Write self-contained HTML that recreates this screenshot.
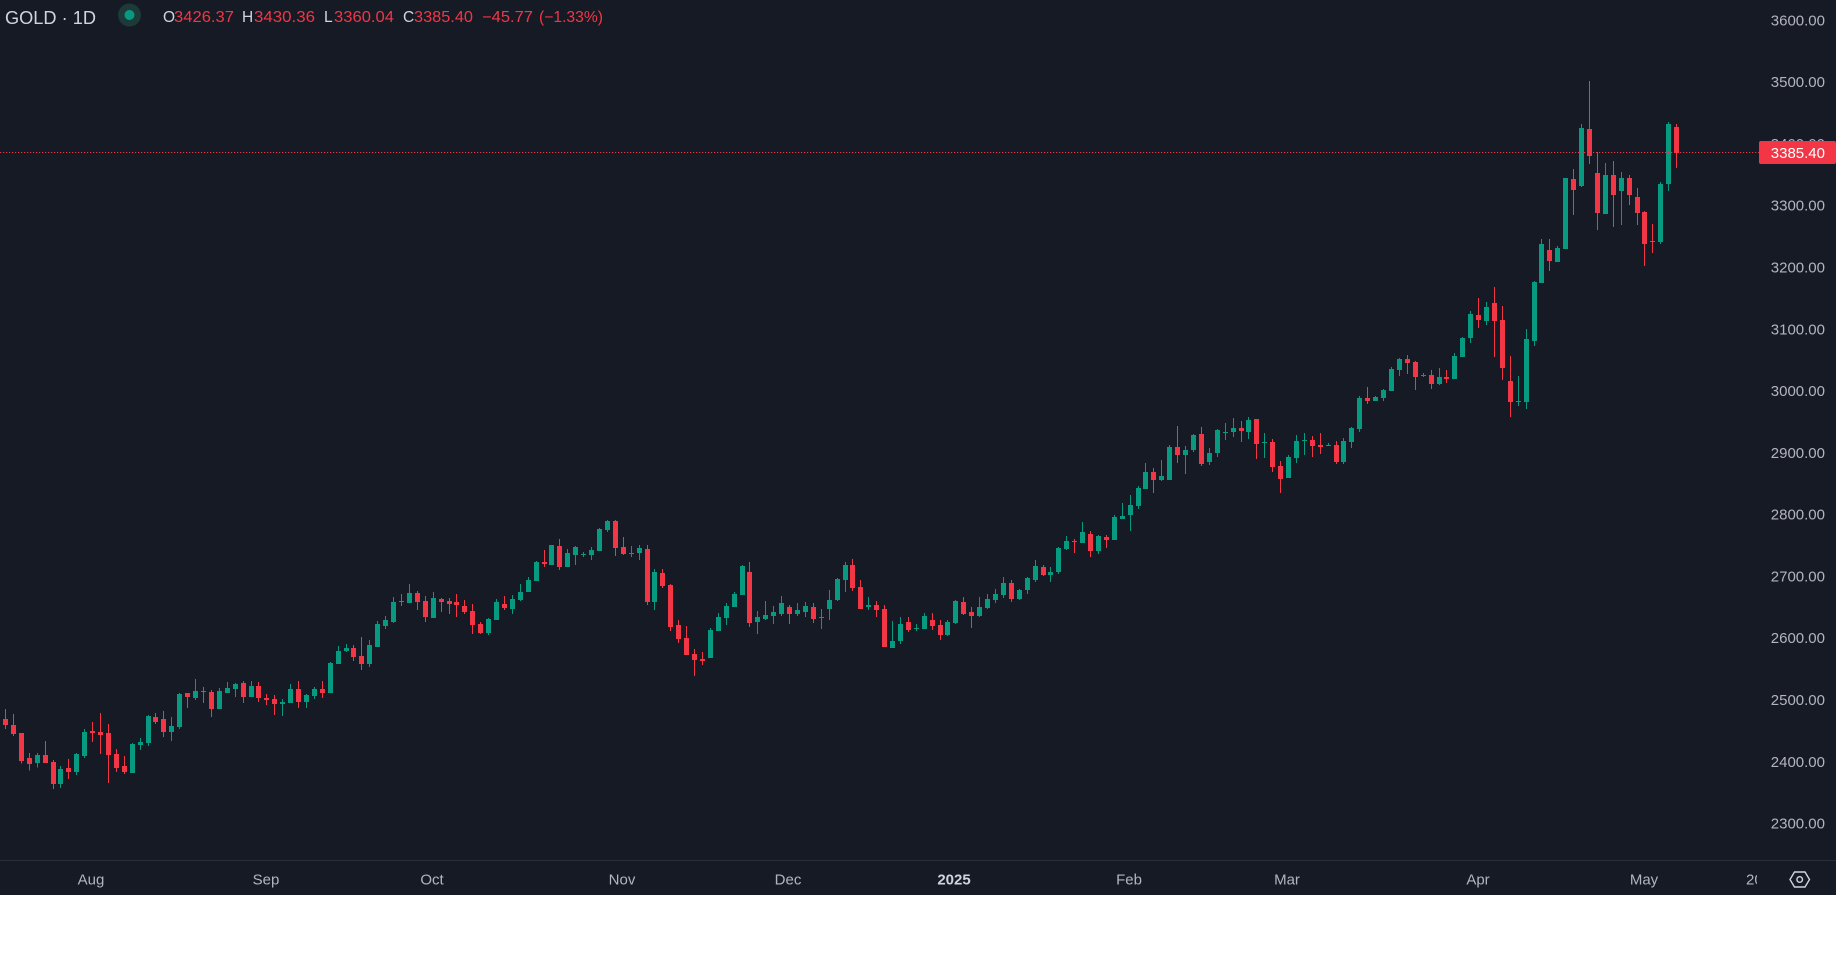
<!DOCTYPE html>
<html>
<head>
<meta charset="utf-8">
<style>
html,body{margin:0;padding:0;background:#ffffff;}
body{width:1836px;height:962px;overflow:hidden;position:relative;}
#chart{position:absolute;left:0;top:0;width:1836px;height:895px;background:#161a25;}
svg{position:absolute;left:0;top:0;}
text{font-family:"Liberation Sans",sans-serif;}
</style>
</head>
<body>
<div id="chart">
<svg width="1836" height="895" viewBox="0 0 1836 895" xmlns="http://www.w3.org/2000/svg">
  <defs>
    <clipPath id="tclip"><rect x="0" y="861" width="1757" height="34"/></clipPath>
  </defs>
  <!-- candles -->
  <g id="candles" shape-rendering="crispEdges"></g>

  <!-- current price line -->
  <line x1="0" y1="152.5" x2="1759" y2="152.5" stroke="#f23645" stroke-width="1" stroke-dasharray="1.2 1.8"/>

  <!-- price axis labels -->
  <g fill="#b2b5be" font-size="15" text-anchor="end">
    <text x="1825" y="25.4">3600.00</text>
    <text x="1825" y="87.2">3500.00</text>
    <text x="1825" y="149">3400.00</text>
    <text x="1825" y="210.7">3300.00</text>
    <text x="1825" y="272.5">3200.00</text>
    <text x="1825" y="334.3">3100.00</text>
    <text x="1825" y="396.1">3000.00</text>
    <text x="1825" y="457.9">2900.00</text>
    <text x="1825" y="519.6">2800.00</text>
    <text x="1825" y="581.4">2700.00</text>
    <text x="1825" y="643.2">2600.00</text>
    <text x="1825" y="705">2500.00</text>
    <text x="1825" y="766.8">2400.00</text>
    <text x="1825" y="828.5">2300.00</text>
  </g>
  <!-- current price label -->
  <rect x="1759" y="141" width="77" height="23" rx="2" fill="#f23645"/>
  <text x="1825" y="158" fill="#ffffff" font-size="15" text-anchor="end">3385.40</text>

  <!-- time axis -->
  <line x1="0" y1="860.5" x2="1836" y2="860.5" stroke="#2a2e39" stroke-width="1"/>
  <g fill="#b2b5be" font-size="15" text-anchor="middle">
    <text x="91" y="884.5">Aug</text>
    <text x="266" y="884.5">Sep</text>
    <text x="432" y="884.5">Oct</text>
    <text x="622" y="884.5">Nov</text>
    <text x="788" y="884.5">Dec</text>
    <text x="954" y="884.5" font-weight="bold" fill="#d1d4dc">2025</text>
    <text x="1129" y="884.5">Feb</text>
    <text x="1287" y="884.5">Mar</text>
    <text x="1478" y="884.5">Apr</text>
    <text x="1644" y="884.5">May</text>
  </g>
  <text x="1746" y="884.5" fill="#b2b5be" font-size="15" clip-path="url(#tclip)">20</text>
  <!-- settings icon -->
  <polygon points="1794.5,872 1805,872 1809.5,879.5 1805,887 1794.5,887 1790,879.5" fill="none" stroke="#d1d4dc" stroke-width="1.4"/>
  <circle cx="1799.7" cy="879.5" r="2.8" fill="none" stroke="#d1d4dc" stroke-width="1.4"/>

  <!-- header -->
  <text x="5" y="24" fill="#d1d4dc" font-size="18.5" textLength="91" lengthAdjust="spacingAndGlyphs">GOLD · 1D</text>
  <circle cx="129.5" cy="15" r="11.5" fill="#1c3a38"/>
  <circle cx="129.5" cy="15" r="5" fill="#089981"/>
  <g font-size="15.5">
    <text x="163" y="22" fill="#d1d4dc">O</text>
    <text x="174" y="22" fill="#f23645" textLength="60" lengthAdjust="spacingAndGlyphs">3426.37</text>
    <text x="242" y="22" fill="#d1d4dc">H</text>
    <text x="254" y="22" fill="#f23645" textLength="61" lengthAdjust="spacingAndGlyphs">3430.36</text>
    <text x="324" y="22" fill="#d1d4dc">L</text>
    <text x="334" y="22" fill="#f23645" textLength="60" lengthAdjust="spacingAndGlyphs">3360.04</text>
    <text x="403" y="22" fill="#d1d4dc">C</text>
    <text x="414" y="22" fill="#f23645" textLength="59" lengthAdjust="spacingAndGlyphs">3385.40</text>
    <text x="482" y="22" fill="#f23645" textLength="51" lengthAdjust="spacingAndGlyphs">−45.77</text>
    <text x="539" y="22" fill="#f23645" textLength="64" lengthAdjust="spacingAndGlyphs">(−1.33%)</text>
  </g>
</svg>
</div>
<script>
(function(){
var S=[
[660,[
[0,147,177,195,207],[0,162,195,222,228],[0,219,219,303,311],[0,279,294,312,332],[1,279,285,309,323],
[0,243,285,309,309],[0,300,306,372,387],[1,318,327,372,384],[0,297,324,336,357],[1,279,282,336,345],
[1,207,216,288,294],[0,186,213,219,246],[0,159,216,225,282],[0,192,219,285,369],[0,267,282,324,336],
[0,288,318,336,342],[1,249,252,339,339],[1,234,246,255,270],[1,165,168,249,258],[0,159,171,186,192],
[0,153,177,216,231],[1,171,198,216,243],[1,99,102,201,207],[0,99,99,111,144],[1,57,93,114,120],
[0,81,93,96,129],[0,90,96,147,171],[1,84,93,147,147],[1,66,84,99,99],[1,69,72,87,111],
[0,63,69,111,129],[1,63,78,111,111],[0,66,78,114,126],[0,102,114,120,135],[0,105,117,132,165],
[1,117,126,132,168],[1,72,87,129,129],[0,63,87,126,144]]],
[510,[
[1,552,555,576,594],[1,531,537,558,567],[0,513,537,549,564],[1,456,459,549,549],[1,408,423,462,462],
[1,402,414,423,426],[0,405,414,441,453],[0,381,438,462,480],[1,390,405,462,471],[1,333,342,411,411],
[1,318,330,348,357],[1,261,276,336,339],[0,252,273,276,288],[1,222,249,279,279],[0,243,249,276,300],
[0,258,273,321,336],[1,246,264,324,324],[0,264,267,276,306],[0,264,273,282,312],[0,252,276,285,321],
[0,270,288,306,312],[0,282,303,345,372],[0,336,342,369,372],[1,324,327,369,375],[1,267,276,330,330],
[0,258,282,294,300],[1,255,267,297,312],[1,222,246,270,273],[1,201,210,246,246],[1,153,156,213,213],
[0,120,156,162,171],[1,105,105,165,165],[0,87,108,171,180],[1,117,129,171,171],[1,108,111,135,165],
[1,126,132,135,141],[1,111,120,135,150],[1,54,57,123,123]]],
[510,[
[1,30,33,60,66],[0,30,33,114,138],[0,81,111,132,135],[1,108,129,132,141],[1,105,114,129,150],
[0,105,117,276,285],[1,177,186,276,300],[0,177,189,228,234],[0,222,225,351,363],[0,330,345,387,399],
[0,348,384,435,435],[0,417,432,450,498],[0,426,447,453,465],[1,354,360,444,444],[1,309,321,363,363],
[1,279,288,324,345],[1,246,252,291,291],[1,165,168,255,255],[0,156,186,339,351],[1,303,321,336,372],
[1,273,315,327,330],[1,288,306,318,342],[1,258,279,312,318],[0,285,291,312,342],[1,279,300,312,318],
[1,276,288,306,321],[0,279,291,327,339],[1,297,321,324,357],[1,240,270,297,330],[1,204,207,270,273],
[1,156,165,210,246],[0,147,165,234,243],[0,210,231,297,297],[1,261,285,291,300],[0,273,285,300,321],
[0,285,297,411,411],[1,333,393,414,414],[1,321,342,393,402]]],
[405,[
[0,636,651,675,681],[1,657,669,672,678],[1,624,633,672,672],[0,624,645,663,675],[0,645,660,690,705],
[1,645,651,690,693],[1,585,588,654,657],[0,576,591,627,630],[0,606,621,633,669],[1,576,606,633,636],
[1,567,582,609,612],[1,552,567,585,594],[1,516,534,570,579],[0,525,534,582,591],[1,552,555,582,585],
[1,516,519,555,567],[1,465,483,525,531],[0,480,486,510,513],[1,486,501,510,531],[1,426,429,501,507],
[1,393,408,432,435],[0,402,408,411,444],[1,351,381,414,414],[0,378,387,438,456],[1,390,393,438,447],
[0,390,396,405,429],[1,330,336,405,405],[1,294,333,342,342],[1,270,300,330,378],[1,243,249,303,312],
[1,174,201,252,252],[0,189,201,225,264],[1,165,213,225,228],[1,120,126,225,225],[0,63,126,150,174],
[1,123,135,150,207],[1,87,90,135,141],[0,66,87,177,183]]],
[340,[
[1,324,339,366,375],[1,267,270,339,351],[1,249,276,279,300],[1,234,264,276,291],[0,243,264,273,306],
[1,231,240,276,297],[0,237,237,312,357],[1,279,306,309,354],[0,297,306,381,396],[0,363,378,417,459],
[1,345,351,414,414],[1,285,303,354,369],[1,279,300,303,345],[0,288,300,318,351],[0,279,315,321,342],
[1,309,315,318,318],[0,303,315,366,372],[1,294,303,366,372],[1,261,264,306,324],[1,168,174,267,276],
[0,141,174,183,192],[1,168,171,183,183],[1,147,150,174,183],[1,81,87,153,153],[1,54,57,90,108],
[0,45,57,69,102],[0,63,66,111,150],[1,99,105,108,111],[0,90,105,132,147],[1,84,111,132,135],
[0,90,111,117,129],[1,39,48,117,117]]],
[70,[
[1,801,804,861,861],[1,723,732,804,819],[0,684,735,750,774],[1,696,711,753,765],[0,651,699,753,861],
[0,708,750,894,930],[0,858,933,996,1041],[1,918,993,996,1008],[1,777,807,996,1017],[1,633,636,813,828],
[1,507,522,639,639],[0,507,540,573,603],[1,528,534,576,576],[1,324,324,537,537],[0,297,327,360,435],
[1,162,174,348,351],[0,33,177,258,282],[0,246,309,429,480],[1,279,315,432,432],[0,273,315,375,471],
[1,306,324,363,465],[0,315,324,375,405],[0,354,381,429,465],[0,423,426,522,588],[0,462,513,516,549],
[1,336,342,516,522],[1,156,162,342,363],[0,162,171,249,294]]]
];
var out=[],i=0;
for(var s=0;s<S.length;s++){
  var base=S[s][0],arr=S[s][1];
  for(var k=0;k<arr.length;k++){
    var d=arr[k];
    var cx=5.5+i*7.92;
    var left=Math.round(cx-2.5);
    var col=d[0]?'#089981':'#f23645';
    var hy=base+d[1]/3, bt=base+d[2]/3, bb=base+d[3]/3, ly=base+d[4]/3;
    var bh=Math.max(bb-bt,1);
    out.push('<rect x="'+(left+2)+'" y="'+hy.toFixed(2)+'" width="1" height="'+Math.max(ly-hy,1).toFixed(2)+'" fill="'+col+'"/>');
    out.push('<rect x="'+left+'" y="'+bt.toFixed(2)+'" width="5" height="'+bh.toFixed(2)+'" fill="'+col+'"/>');
    i++;
  }
}
document.getElementById('candles').innerHTML=out.join('');
})();
</script>
</body>
</html>
